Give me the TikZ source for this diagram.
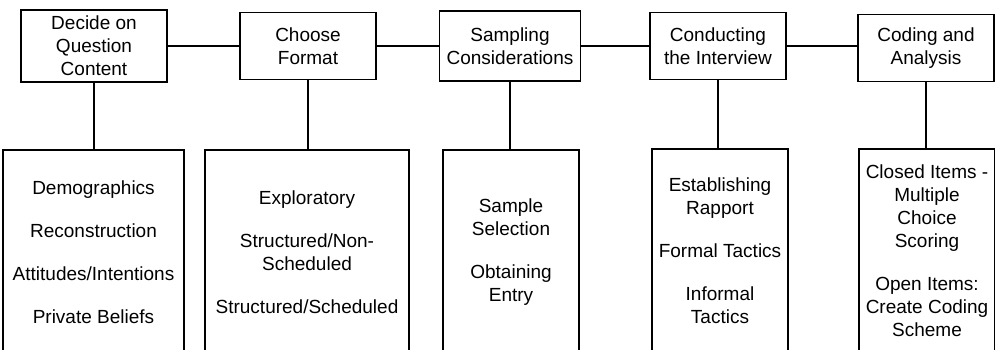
\documentclass[tikz,border=0pt]{standalone}
\usepackage{fontspec}
\setmainfont{Liberation Sans}
\usepackage{tikz}
\usetikzlibrary{positioning}
\tikzset{>=latex}
\tikzset{font=\fontsize{19}{23}\selectfont}
% stage boxes along the top, topic boxes hanging below them
\tikzset{stage/.style={draw, line width=1.1pt, align=center, inner sep=2pt,
    minimum width=136pt, minimum height=67pt}}
\tikzset{topic/.style={draw, line width=1.1pt, align=center, inner sep=2pt,
    minimum width=136pt, minimum height=204pt}}
\tikzset{link/.style={line width=1.1pt}}

\begin{document}
\begin{tikzpicture}[x=1pt, y=-1pt]
  \useasboundingbox (0,0) rectangle (995,350);
  \clip (0,0) rectangle (995,350);
  \fill[white] (0,0) rectangle (995,350);
  % top row
  \node[stage, minimum width=146pt, minimum height=72pt] (content) at (94,46)
  {Decide on\\Question\\Content};
  \node[stage] (format) at (308,46) {Choose\\Format};
  \node[stage, minimum width=141pt, minimum height=70pt] (sampling) at (510,46)
  {Sampling\\Considerations};
  \node[stage] (interview) at (718,46) {Conducting\\the Interview};
  \node[stage] (coding) at (926,48) {Coding and\\Analysis};
  % bottom row
  \node[topic, minimum width=181pt] (contentlist) at (93.5,252)
  {Demographics\\[20pt]Reconstruction\\[20pt]Attitudes/Intentions\\[20pt]Private Beliefs};
  \node[topic, minimum width=204pt] (formatlist) at (307,252)
  {Exploratory\\[20pt]Structured/Non-\\Scheduled\\[20pt]Structured/Scheduled};
  \node[topic] (samplinglist) at (511,252)
  {Sample\\Selection\\[20pt]Obtaining\\Entry};
  \node[topic] (interviewlist) at (720,251)
  {Establishing\\Rapport\\[20pt]Formal Tactics\\[20pt]Informal\\Tactics};
  \node[topic] (codinglist) at (927,251)
  {Closed Items -\\Multiple\\Choice\\Scoring\\[20pt]Open Items:\\Create Coding\\Scheme};
  % connectors
  \draw[link] (content.east) -- (content.east -| format.west);
  \draw[link] (format.east) -- (format.east -| sampling.west);
  \draw[link] (sampling.east) -- (sampling.east -| interview.west);
  \draw[link] (interview.east) -- (interview.east -| coding.west);
  \foreach \s/\t in {content/contentlist, format/formatlist, sampling/samplinglist,
      interview/interviewlist, coding/codinglist}
    \draw[link] (\s.south) -- (\s.south |- \t.north);
\end{tikzpicture}
\end{document}
